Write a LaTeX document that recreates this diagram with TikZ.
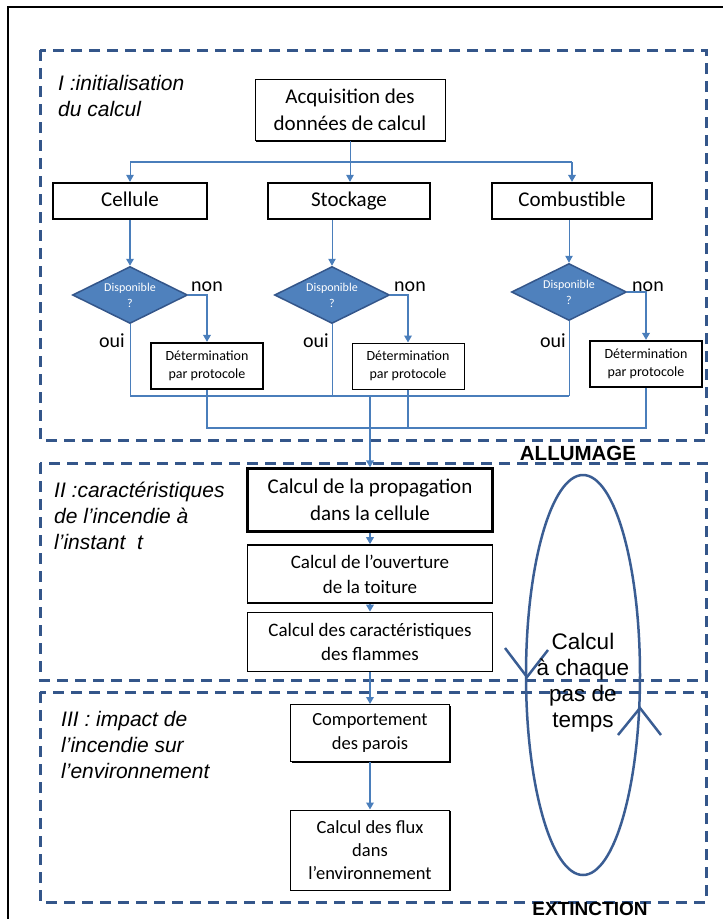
\documentclass[tikz,border=0pt]{standalone}
\usepackage{fontspec}
\setmainfont{Carlito}
\newfontfamily\arialfont{Liberation Sans}
\usetikzlibrary{shapes.geometric, arrows.meta, shadows}
\definecolor{linkblue}{HTML}{4A7EBB}
\definecolor{dashblue}{HTML}{34568A}
\definecolor{diafill}{HTML}{4F81BD}
\definecolor{loopblue}{HTML}{3A5D93}

\begin{document}
\begin{tikzpicture}[x=1pt, y=-1pt,
    box/.style={draw, line width=1pt, fill=white, align=center, inner sep=0pt,
      drop shadow={shadow xshift=1.3pt, shadow yshift=-1.3pt, fill=black, opacity=1}},
    boldbox/.style={draw, line width=2.2pt, fill=white, align=center, inner sep=0pt},
    test/.style={diamond, aspect=2, fill=diafill, draw=dashblue, line width=1.5pt,
      text=white, inner sep=0pt, minimum width=115pt, minimum height=57pt,
      align=center, font=\fontsize{12}{16}\selectfont},
    link/.style={linkblue, line width=1.8pt},
    thinlink/.style={linkblue, line width=1pt},
    arrowed/.style={-{Triangle[length=7pt, width=7.5pt]}},
    phase/.style={dashblue, line width=3pt, dash pattern=on 11pt off 7pt},
    phasename/.style={align=left, inner sep=0pt, font=\arialfont\itshape\fontsize{21}{26}\selectfont},
    answer/.style={inner sep=0pt, font=\fontsize{20}{22}\selectfont},
    stage/.style={inner sep=0pt, font=\arialfont\bfseries\fontsize{20.5}{22}\selectfont}]
  \clip (0,0) rectangle (723,919);
  \draw[line width=1.8pt] (8,7) rectangle (760,960);

  % les trois phases
  \draw[phase] (40,50) rectangle (706,440);
  \draw[phase] (40,463) rectangle (706,680);
  \draw[phase] (40,692) rectangle (706,902);
  \node[phasename, anchor=west] (phI) at (58,96) {I :initialisation\\du calcul};
  \node[phasename, anchor=west] (phII) at (54,516) {II :caractéristiques\\de l’incendie à\\l’instant\ \ t};
  \node[phasename, anchor=west] (phIII) at (61,745) {III : impact de\\l’incendie sur\\l’environnement};
  \node[stage] (allumage) at (578,453) {ALLUMAGE};
  \node[stage, font=\arialfont\bfseries\fontsize{19}{20}\selectfont, text depth=0pt]
    (extinction) at (590,909) {EXTINCTION};

  % initialisation
  \node[box, minimum width=190pt, minimum height=61pt, font=\fontsize{21}{27}\selectfont]
    (acq) at (350,110) {Acquisition des\\données de calcul};
  \node[boldbox, minimum width=154pt, minimum height=36pt, text height=14pt, text depth=4pt,
    font=\fontsize{21}{22}\selectfont] (cel) at (130,201) {Cellule};
  \node[boldbox, minimum width=162pt, minimum height=36pt, text height=14pt, text depth=4pt,
    font=\fontsize{21}{22}\selectfont] (sto) at (349,201) {Stockage};
  \node[boldbox, minimum width=160pt, minimum height=36pt, text height=14pt, text depth=4pt,
    font=\fontsize{21}{22}\selectfont] (com) at (572,201) {Combustible};
  \node[test] (dC) at (130,295) {Disponible\\?};
  \node[test] (dS) at (332,295) {Disponible\\?};
  \node[test] (dB) at (569,292) {Disponible\\?};
  \node[boldbox, minimum width=112pt, minimum height=46pt, font=\fontsize{14}{18}\selectfont]
    (detC) at (207,366) {Détermination\\par protocole};
  \node[box, minimum width=112pt, minimum height=46pt, font=\fontsize{14}{18}\selectfont]
    (detS) at (408,366) {Détermination\\par protocole};
  \node[boldbox, minimum width=112pt, minimum height=46pt, font=\fontsize{14}{18}\selectfont]
    (detB) at (646,364) {Détermination\\par protocole};
  \node[answer] (nonC) at (207,287) {non};
  \node[answer] (nonS) at (410,287) {non};
  \node[answer] (nonB) at (648,287) {non};
  \node[answer] (ouiC) at (112,341) {oui};
  \node[answer] (ouiS) at (316,341) {oui};
  \node[answer] (ouiB) at (553,341) {oui};

  \coordinate (bus) at (350,162);
  \coordinate (ouibus) at (569,396);
  \coordinate (detbus) at (646,428);
  \coordinate (merge) at (370,396);
  \draw[thinlink] (acq.south) -- (bus);
  \draw[link] (cel.north |- bus) -- (com.north |- bus);
  \draw[thinlink, arrowed] (cel.north |- bus) -- (cel.north);
  \draw[thinlink, arrowed] (bus) -- (sto.north -| bus);
  \draw[link, arrowed] (com.north |- bus) -- (com.north);
  \draw[link, arrowed] (cel.south) -- (dC.north);
  \draw[thinlink, arrowed] (dS.north |- sto.south) -- (dS.north);
  \draw[thinlink, arrowed] (dB.north |- com.south) -- (dB.north);
  \draw[link, arrowed] (dC.east) -| (detC.north);
  \draw[link, arrowed] (dS.east) -| (detS.north);
  \draw[link, arrowed] (dB.east) -| (detB.north);
  \draw[thinlink] (dC.south) -- (dC.south |- ouibus);
  \draw[link] (dC.south |- ouibus) -- (ouibus);
  \draw[thinlink] (dS.south) -- (dS.south |- ouibus);
  \draw[thinlink] (dB.south) -- (ouibus);
  \draw[link] (detC.south) |- (detbus) -- (detB.south);
  \draw[link] (detS.south) -- (detS.south |- detbus);

  % caracteristiques de l'incendie
  \node[boldbox, minimum width=245pt, minimum height=63pt, font=\fontsize{21}{27}\selectfont]
    (prop) at (370,500) {Calcul de la propagation\\dans la cellule};
  \node[boldbox, line width=1.6pt, minimum width=245pt, minimum height=58pt, font=\fontsize{19}{25}\selectfont]
    (ouv) at (370,574) {Calcul de l’ouverture\\de la toiture};
  \node[boldbox, line width=1.6pt, minimum width=245pt, minimum height=59pt, font=\fontsize{19}{24}\selectfont]
    (flam) at (370,642) {Calcul des caractéristiques\\des flammes};
  \draw[link, arrowed] (merge) -- (prop.north);
  \draw[link, arrowed] (prop.south) -- (ouv.north);
  \draw[link, arrowed] (ouv.south) -- (flam.north);

  % impact sur l'environnement
  \node[box, minimum width=159pt, minimum height=57pt, font=\fontsize{18.5}{24}\selectfont]
    (comp) at (370,733) {Comportement\\des parois};
  \node[box, minimum width=159pt, minimum height=80pt, font=\fontsize{18.5}{23}\selectfont]
    (flux) at (370,850) {Calcul des flux\\dans\\l’environnement};
  \draw[link, arrowed] (flam.south) -- (comp.north);
  \draw[link, arrowed] (comp.south) -- (flux.north);

  % boucle sur les pas de temps
  \draw[loopblue, line width=2.5pt] (583,675) ellipse [x radius=57, y radius=200];
  \draw[loopblue, line width=2.5pt] (505,648) -- (527,677) -- (548,650);
  \draw[loopblue, line width=2.5pt] (618,735) -- (640,708) -- (661,735);
  \node[align=center, inner sep=0pt, font=\arialfont\fontsize{22.5}{26}\selectfont]
    (loop) at (583,683) {Calcul\\à chaque\\pas de\\temps};
\end{tikzpicture}
\end{document}
